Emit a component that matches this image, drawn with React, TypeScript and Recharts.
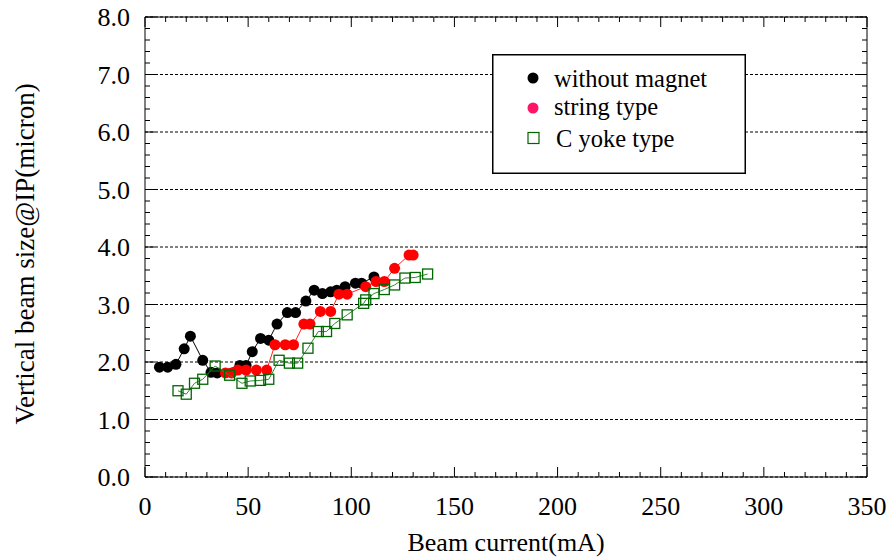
import React from "react";
import {
  ScatterChart,
  Scatter,
  XAxis,
  YAxis,
  CartesianGrid,
  Legend,
} from "recharts";

const FONT = '"Liberation Serif", "Times New Roman", serif';

// ---- ticks ----
const xTicks = [0, 50, 100, 150, 200, 250, 300, 350];
const yTicks = [0, 1, 2, 3, 4, 5, 6, 7, 8];
const xMinorTicks = Array.from({ length: 36 }, (_, i) => i * 10);
const yMinorTicks = Array.from({ length: 41 }, (_, i) => Math.round(i * 2) / 10);

// ---- series: without magnet ----
const withoutMagnetX = [7, 11, 15, 19, 22, 28, 32, 35, 46, 49, 52, 56, 60, 64, 69, 73, 78, 82, 86, 90, 93, 97, 102, 105, 111];
const withoutMagnetY = [1.91, 1.91, 1.96, 2.23, 2.45, 2.03, 1.82, 1.81, 1.94, 1.94, 2.18, 2.41, 2.38, 2.66, 2.86, 2.86, 3.06, 3.25, 3.19, 3.22, 3.25, 3.31, 3.37, 3.37, 3.48];

// ---- series: string type ----
const stringTypeX = [39, 42, 45, 49, 54, 59, 63, 68, 72, 77, 80, 85, 90, 94, 98, 107, 112, 116, 121, 128, 130];
const stringTypeY = [1.81, 1.81, 1.86, 1.86, 1.86, 1.86, 2.3, 2.3, 2.3, 2.66, 2.66, 2.88, 2.88, 3.18, 3.18, 3.31, 3.4, 3.4, 3.63, 3.86, 3.86];

// ---- series: C yoke type ----
const cYokeX = [16, 20, 24, 28, 34, 41, 47, 51, 56, 60, 65, 70, 74, 79, 84, 88, 92, 98, 106, 107, 111, 116, 121, 126, 131, 137];
const cYokeY = [1.5, 1.44, 1.63, 1.7, 1.93, 1.77, 1.63, 1.67, 1.68, 1.7, 2.03, 1.98, 1.98, 2.24, 2.53, 2.53, 2.67, 2.82, 3.02, 3.08, 3.19, 3.26, 3.34, 3.46, 3.47, 3.53];

const seriesNames = ["without magnet", "string type", "C yoke type"];

const zip = (xs: number[], ys: number[]) => xs.map((x, i) => ({ x, y: ys[i] }));
const withoutMagnetData = zip(withoutMagnetX, withoutMagnetY);
const stringTypeData = zip(stringTypeX, stringTypeY);
const cYokeData = zip(cYokeX, cYokeY);

const Y_MAX = yTicks[yTicks.length - 1];
const PLOT_W = 722;
const PLOT_H = 460;

const BlackDot = (p: any) => <circle cx={p.cx} cy={p.cy} r={5.5} fill="#000" />;
const RedDot = (p: any) => <circle cx={p.cx} cy={p.cy} r={5.5} fill="#ff0000" />;
const GreenSquare = (p: any) => (
  <rect x={p.cx - 5} y={p.cy - 5} width={10} height={10} fill="none" stroke="#006600" strokeWidth={1.3} />
);

const XTick = (p: any) => {
  const v = p.payload.value as number;
  const major = v % 50 === 0;
  const len = major ? 10 : 5;
  const x = p.x;
  const y = p.y;
  return (
    <g>
      <line x1={x} y1={y} x2={x} y2={y - len} stroke="#000" strokeWidth={1} />
      <line x1={x} y1={y - PLOT_H} x2={x} y2={y - PLOT_H + len} stroke="#000" strokeWidth={1} />
      {major && (
        <text x={x} y={y + 38} textAnchor="middle" fontFamily={FONT} fontSize={26} fill="#000">
          {String(v)}
        </text>
      )}
    </g>
  );
};

const YTick = (p: any) => {
  const v = p.payload.value as number;
  const major = Number.isInteger(v);
  const len = major ? 10 : 5;
  const x = p.x;
  const y = p.y;
  return (
    <g>
      <line x1={x} y1={y} x2={x + len} y2={y} stroke="#000" strokeWidth={1} />
      <line x1={x + PLOT_W} y1={y} x2={x + PLOT_W - len} y2={y} stroke="#000" strokeWidth={1} />
      {major && (
        <text x={x - 15} y={y + 9} textAnchor="end" fontFamily={FONT} fontSize={26} fill="#000">
          {v.toFixed(1)}
        </text>
      )}
    </g>
  );
};

const XTitle = (p: any) => {
  const vb = p.viewBox || { x: 145, width: 722 };
  return (
    <text x={vb.x + vb.width / 2} y={551} textAnchor="middle" fontFamily={FONT} fontSize={26} fill="#000">
      Beam current(mA)
    </text>
  );
};

const YTitle = () => (
  <text
    x={34}
    y={254}
    transform="rotate(-90 34 254)"
    textAnchor="middle"
    fontFamily={FONT}
    fontSize={27}
    fill="#000"
  >
    Vertical beam size@IP(micron)
  </text>
);

const LegendBox = () => (
  <svg width={254} height={120} style={{ display: "block" }}>
    <rect x={0.75} y={0.75} width={252.5} height={118.5} fill="#fff" stroke="#000" strokeWidth={1.5} />
    <circle cx={41} cy={24} r={5.5} fill="#000" />
    <text x={62} y={33} fontFamily={FONT} fontSize={24.5} fill="#000">{seriesNames[0]}</text>
    <circle cx={41} cy={54} r={5.5} fill="#ff1466" />
    <text x={62} y={61} fontFamily={FONT} fontSize={24.5} fill="#000">{seriesNames[1]}</text>
    <rect x={36} y={78.5} width={11} height={11} fill="none" stroke="#006600" strokeWidth={1.2} />
    <text x={64} y={93} fontFamily={FONT} fontSize={24.5} fill="#000">{seriesNames[2]}</text>
  </svg>
);

const black = { stroke: "#000", strokeWidth: 1 };

// horizontal dashed grid rows at the integer y ticks, placed inside the plot area
const gridRows = (props: any) => {
  const o = props?.offset;
  if (!o) return [];
  return yTicks.map((t) => o.top + o.height * (1 - t / Y_MAX));
};

export default function App() {
  return (
    <div style={{ position: "absolute", left: 0, top: 0, width: 887, height: 560, background: "#fff", fontFamily: FONT }}>
      <ScatterChart width={887} height={560} margin={{ top: 17, right: 20, left: 0, bottom: 0 }}>
        <CartesianGrid
          xAxisId="x"
          yAxisId="y"
          vertical={false}
          horizontalCoordinatesGenerator={gridRows}
          stroke="#000"
          strokeDasharray="3 2"
        />
        <XAxis
          xAxisId="x"
          type="number"
          dataKey="x"
          domain={[0, 350]}
          allowDataOverflow
          ticks={xMinorTicks}
          interval={0}
          height={83}
          tickSize={0}
          tickMargin={0}
          tickLine={false}
          axisLine={black}
          tick={<XTick />}
          label={<XTitle />}
        />
        <YAxis
          yAxisId="y"
          type="number"
          dataKey="y"
          domain={[0, 8]}
          allowDataOverflow
          ticks={yMinorTicks}
          interval={0}
          width={145}
          tickSize={0}
          tickMargin={0}
          tickLine={false}
          axisLine={black}
          tick={<YTick />}
          label={<YTitle />}
        />
        {/* frame: right and top */}
        <YAxis
          yAxisId="right"
          orientation="right"
          mirror
          width={1}
          type="number"
          domain={[0, 8]}
          allowDataOverflow
          ticks={yTicks}
          interval={0}
          tick={false}
          tickLine={false}
          axisLine={black}
        />
        <XAxis
          xAxisId="top"
          orientation="top"
          mirror
          height={1}
          type="number"
          domain={[0, 350]}
          allowDataOverflow
          ticks={xTicks}
          interval={0}
          tick={false}
          tickLine={false}
          axisLine={black}
        />

        <Scatter
          name={seriesNames[0]}
          xAxisId="x"
          yAxisId="y"
          data={withoutMagnetData}
          shape={BlackDot}
          line={{ stroke: "#000", strokeWidth: 1 }}
          lineType="joint"
          isAnimationActive={false}
        />
        <Scatter
          name={seriesNames[1]}
          xAxisId="x"
          yAxisId="y"
          data={stringTypeData}
          shape={RedDot}
          line={{ stroke: "#ff2020", strokeWidth: 1 }}
          lineType="joint"
          isAnimationActive={false}
        />
        <Scatter
          name={seriesNames[2]}
          xAxisId="x"
          yAxisId="y"
          data={cYokeData}
          shape={GreenSquare}
          line={{ stroke: "#2f8a2f", strokeWidth: 1 }}
          lineType="joint"
          isAnimationActive={false}
        />
        <Legend
          layout="vertical"
          align="center"
          verticalAlign="middle"
          wrapperStyle={{ position: "absolute", left: 492, top: 54, width: 254, height: 120 }}
          content={() => <LegendBox />}
        />
      </ScatterChart>
    </div>
  );
}
